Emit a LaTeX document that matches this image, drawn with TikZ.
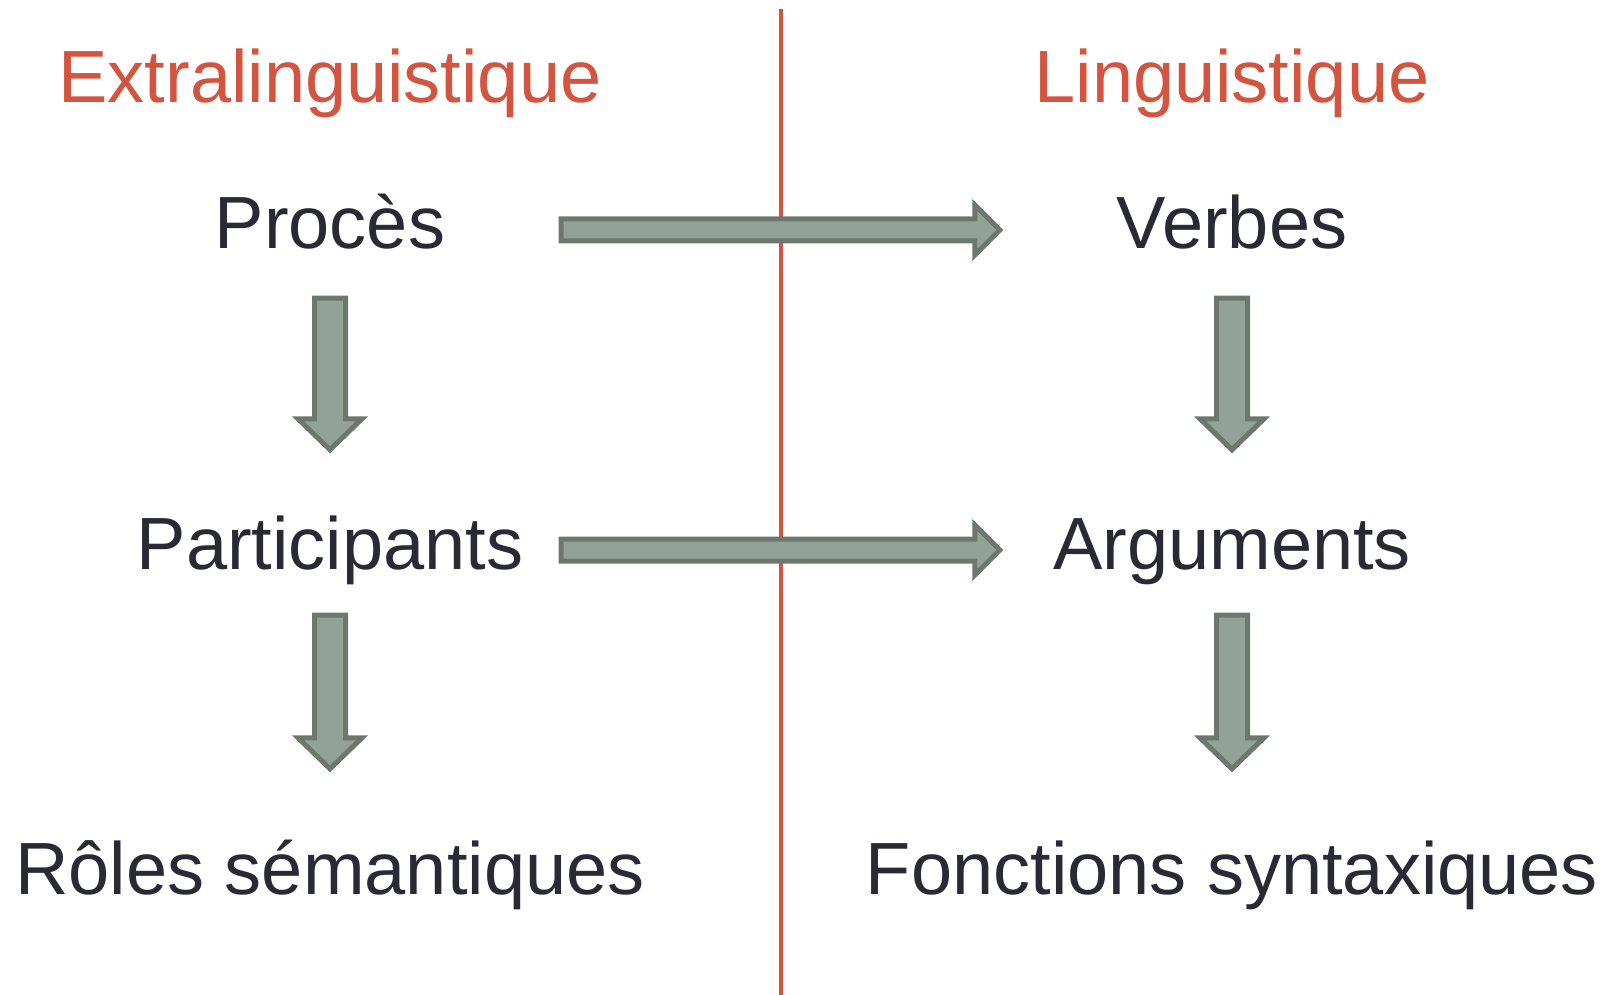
\documentclass[tikz,border=0pt]{standalone}
\usepackage{fontspec}
\setmainfont{Liberation Sans}
\usepackage{tikz}
\usetikzlibrary{calc}
\definecolor{redline}{HTML}{D35540}
\definecolor{arrowfill}{HTML}{93A298}
\definecolor{arrowdraw}{HTML}{6C786D}
\definecolor{textdark}{HTML}{2A2A35}
\tikzset{
	term/.style={inner sep=0pt, text height=53pt, text depth=15pt, minimum width=458pt,
		font=\fontsize{74}{80}\selectfont, text=textdark},
	heading/.style={term, text=redline},
	blockarrow/.style={draw=arrowdraw, fill=arrowfill, line width=5pt},
	divider/.style={draw=redline, line width=4pt},
}
% fat arrow: from, to, gap at start, gap at end, half shaft, half head, head length
\newcommand{\fatarrow}[7]{%
	\coordinate (fa-s) at ($(#1)!#3!(#2)$);
	\coordinate (fa-e) at ($(#2)!#4!(#1)$);
	\coordinate (fa-b) at ($(fa-e)!#7!(fa-s)$);
	\draw[blockarrow] ($(fa-s)!#5!90:(fa-e)$) -- ($(fa-b)!#5!90:(fa-e)$)
		-- ($(fa-b)!#6!90:(fa-e)$) -- (fa-e) -- ($(fa-b)!#6!-90:(fa-e)$)
		-- ($(fa-b)!#5!-90:(fa-e)$) -- ($(fa-s)!#5!-90:(fa-e)$) -- cycle;
}

\begin{document}
\begin{tikzpicture}[x=1pt, y=-1pt]
	\useasboundingbox (0,0) rectangle (1618,995);
	\coordinate (top) at (781,9);
	\coordinate (bottom) at (781,995);
	\draw[divider] (top) -- (bottom);
	% left column
	\node[heading, anchor=base] (extra) at (330,103) {Extralinguistique};
	\node[term, anchor=base] (proces) at (330,249) {Procès};
	\node[term, anchor=base] (particip) at (330,569) {Participants};
	\node[term, anchor=base] (roles) at (330,894) {Rôles sémantiques};
	% right column
	\node[heading, anchor=base] (ling) at (1232,103) {Linguistique};
	\node[term, anchor=base] (verbes) at (1232,249) {Verbes};
	\node[term, anchor=base] (argum) at (1232,569) {Arguments};
	\node[term, anchor=base] (fonctions) at (1232,894) {Fonctions syntaxiques};
	% arrows
	\fatarrow{proces.east}{verbes.west}{2pt}{3pt}{11pt}{25pt}{25pt}
	\fatarrow{particip.east}{argum.west}{2pt}{3pt}{11pt}{25pt}{25pt}
	\fatarrow{proces.south}{particip.north}{34pt}{66pt}{15.5pt}{32pt}{31pt}
	\fatarrow{particip.south}{roles.north}{31pt}{72pt}{15.5pt}{32pt}{31pt}
	\fatarrow{verbes.south}{argum.north}{34pt}{66pt}{15.5pt}{32pt}{31pt}
	\fatarrow{argum.south}{fonctions.north}{31pt}{72pt}{15.5pt}{32pt}{31pt}
\end{tikzpicture}
\end{document}
